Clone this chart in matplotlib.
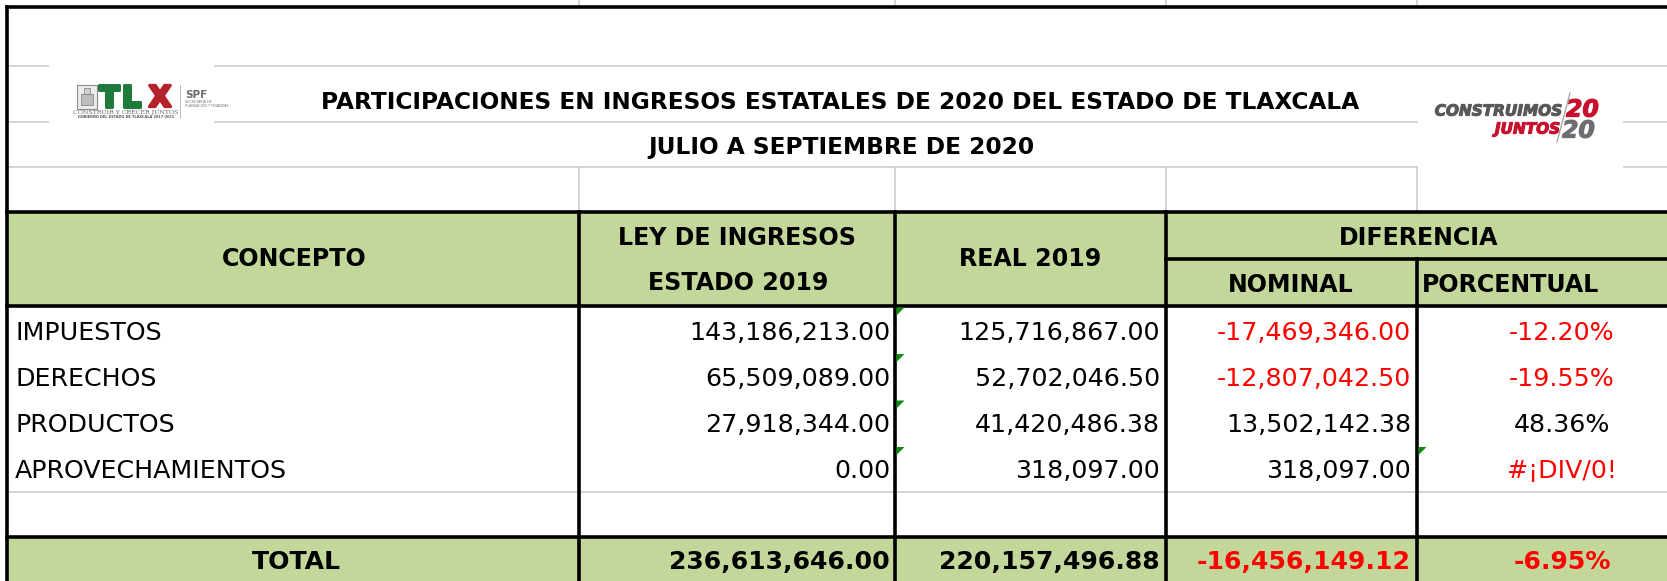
import matplotlib
matplotlib.use('Agg')
import matplotlib.pyplot as plt
import matplotlib.patheffects as pe
from matplotlib.patches import Rectangle, Polygon

# ── Data ──────────────────────────────────────────────────────────────────────
TITLE    = 'PARTICIPACIONES EN INGRESOS ESTATALES DE 2020 DEL ESTADO DE TLAXCALA'
SUBTITLE = 'JULIO A SEPTIEMBRE DE 2020'

conceptos    = ['IMPUESTOS', 'DERECHOS', 'PRODUCTOS', 'APROVECHAMIENTOS']
ley_ingresos = [143186213.00, 65509089.00, 27918344.00, 0.00]
real_2019    = [125716867.00, 52702046.50, 41420486.38, 318097.00]
nominal      = [-17469346.00, -12807042.50, 13502142.38, 318097.00]
porcentual   = [-12.20, -19.55, 48.36, None]      # None -> #¡DIV/0!

total_ley     = 236613646.00
total_real    = 220157496.88
total_nominal = -16456149.12
total_pct     = -6.95

# ── Config ────────────────────────────────────────────────────────────────────
W, H     = 1667, 581
DPI      = 100
GREEN    = '#C4D79B'
RED      = '#FF0000'
GRID     = '#D3D3D3'
BLACK    = '#000000'
THICK    = 2.6      # pt
THIN     = 1.4      # pt

X0       = 7                              # left border
COLS     = [579, 895, 1166, 1417]         # column dividers
HEAD_TOP, HEAD_MID, HEAD_BOT = 212, 259, 306
ROW_H    = 46.5
ROW_CY   = [331, 377, 423, 469]
EMPTY_TOP, TOTAL_TOP = 492, 537
TOTAL_CY = 560

fig = plt.figure(figsize=(W / DPI, H / DPI), dpi=DPI)
ax = fig.add_axes([0, 0, 1, 1])
ax.set_xlim(0, W)
ax.set_ylim(H, 0)
ax.axis('off')
renderer = fig.canvas.get_renderer()

FONT = 'DejaVu Sans'


def fit(txt, width, **kw):
    t = ax.text(0, 0, txt, fontsize=10, family=FONT, **kw)
    w = t.get_window_extent(renderer).width
    t.remove()
    return 10 * width / w


def put(x, cy, s, fs, ha='center', color=BLACK, **kw):
    cap = 0.729 * fs * DPI / 72
    return ax.text(x, cy + cap / 2, s, fontsize=fs, ha=ha, va='baseline',
                   color=color, family=kw.pop('family', FONT), zorder=4, **kw)


def hline(y, x1, x2, color=BLACK, lw=THICK):
    ax.plot([x1, x2], [y, y], color=color, lw=lw, solid_capstyle='projecting', zorder=3)


def vline(x, y1, y2, color=BLACK, lw=THICK):
    ax.plot([x, x], [y1, y2], color=color, lw=lw, solid_capstyle='projecting', zorder=3)


FS_TITLE = fit(TITLE, 1042, weight='bold')
FS_HEAD  = fit('CONCEPTO', 146, weight='bold')
FS_DATA  = fit('143,186,213.00', 200)
FS_TOTAL = fit('236,613,646.00', 221, weight='bold')

# ── Fills ─────────────────────────────────────────────────────────────────────
ax.add_patch(Rectangle((X0, HEAD_TOP), W - X0, HEAD_BOT - HEAD_TOP, fc=GREEN, ec='none', zorder=1))
ax.add_patch(Rectangle((X0, TOTAL_TOP), W - X0, H - TOTAL_TOP + 5, fc=GREEN, ec='none', zorder=1))

# ── Grid (gray, top area) ─────────────────────────────────────────────────────
hline(66, X0, 48, GRID, THIN)
hline(66, 215, W, GRID, THIN)
hline(122, X0, 48, GRID, THIN)
hline(122, 215, 1417, GRID, THIN)
hline(122, 1624, W, GRID, THIN)
hline(167, X0, 1417, GRID, THIN)
hline(167, 1624, W, GRID, THIN)
for cx in COLS:
    vline(cx, 167, HEAD_TOP, GRID, THIN)
    vline(cx, 0, 5, GRID, THIN)
hline(EMPTY_TOP, X0, W, GRID, THIN)

# ── Borders (black) ───────────────────────────────────────────────────────────
hline(7, X0, W)
vline(X0, 7, H)
hline(HEAD_TOP, X0, W)
hline(HEAD_MID, COLS[2], W)
hline(HEAD_BOT, X0, W)
hline(TOTAL_TOP, X0, W)
for cx in COLS[:3]:
    vline(cx, HEAD_TOP, H)
vline(COLS[3], HEAD_MID, H)

# ── Title ─────────────────────────────────────────────────────────────────────
put(840, 101, TITLE, FS_TITLE, weight='bold')
put(841, 146, SUBTITLE, FS_TITLE, weight='bold')

# ── Header ────────────────────────────────────────────────────────────────────
put(294, 257, 'CONCEPTO', FS_HEAD, weight='bold')
put(737, 236, 'LEY DE INGRESOS', FS_HEAD, weight='bold')
put(738, 281, 'ESTADO 2019', FS_HEAD, weight='bold')
put(1030, 257, 'REAL 2019', FS_HEAD, weight='bold')
put(1419, 236, 'DIFERENCIA', FS_HEAD, weight='bold')
put(1291, 283, 'NOMINAL', FS_HEAD, weight='bold')
put(1422, 283, 'PORCENTUAL', FS_HEAD, ha='left', weight='bold')

# ── Rows ──────────────────────────────────────────────────────────────────────
PCT_X = 1562
for i, name in enumerate(conceptos):
    cy = ROW_CY[i]
    put(15, cy, name, FS_DATA, ha='left')
    put(COLS[1] - 5, cy, f'{ley_ingresos[i]:,.2f}', FS_DATA, ha='right')
    put(COLS[2] - 6, cy, f'{real_2019[i]:,.2f}', FS_DATA, ha='right')
    put(COLS[3] - 6, cy, f'{nominal[i]:,.2f}', FS_DATA, ha='right',
        color=RED if nominal[i] < 0 else BLACK)
    p = porcentual[i]
    if p is None:
        put(PCT_X, cy, '#¡DIV/0!', FS_DATA, color=RED)
    else:
        put(PCT_X, cy, f'{p:.2f}%', FS_DATA, color=RED if p < 0 else BLACK)

    # excel error indicators
    top = HEAD_BOT + i * ROW_H + 1.5
    x = COLS[1] + 1.5
    ax.add_patch(Polygon([(x, top), (x + 8, top), (x, top + 8)], closed=True,
                         fc='#108a10', ec='none', zorder=5))
    if p is None:
        x = COLS[3] + 1.5
        ax.add_patch(Polygon([(x, top), (x + 8, top), (x, top + 8)], closed=True,
                             fc='#108a10', ec='none', zorder=5))

# ── Total ─────────────────────────────────────────────────────────────────────
put(296, TOTAL_CY, 'TOTAL', FS_TOTAL, weight='bold')
put(COLS[1] - 5, TOTAL_CY, f'{total_ley:,.2f}', FS_TOTAL, ha='right', weight='bold')
put(COLS[2] - 6, TOTAL_CY, f'{total_real:,.2f}', FS_TOTAL, ha='right', weight='bold')
put(COLS[3] - 6, TOTAL_CY, f'{total_nominal:,.2f}', FS_TOTAL, ha='right', weight='bold', color=RED)
put(PCT_X, TOTAL_CY, f'{total_pct:.2f}%', FS_TOTAL, weight='bold', color=RED)

# ── Left logo (TLX | SPF) ─────────────────────────────────────────────────────
ax.add_patch(Rectangle((77, 85), 20, 24, fc='#ececec', ec='#8c8c8c', lw=0.8, zorder=4))
ax.add_patch(Rectangle((81, 94), 12, 11, fc='#bdbdbd', ec='#7a7a7a', lw=0.5, zorder=5))
ax.add_patch(Rectangle((84, 88), 6, 6, fc='#cfcfcf', ec='#7a7a7a', lw=0.5, zorder=5))
for letter, lx, col in [('T', 109, '#1f7a3c'), ('L', 131, '#1f7a3c'), ('X', 160, '#b5222b')]:
    t = put(lx, 96, letter, 21, weight='bold', color=col)
    t.set_path_effects([pe.withStroke(linewidth=2.2, foreground=col)])
vline(180, 85, 118, '#b0b0b0', 0.6)
put(185, 94, 'SPF', 7.5, ha='left', weight='bold', color='#6b6b6b')
put(185, 102, 'SECRETARÍA DE', 2.4, ha='left', color='#777777')
put(185, 106, 'PLANEACIÓN Y FINANZAS', 2.4, ha='left', color='#777777')
put(126, 112, 'CONSTRUIR Y CRECER JUNTOS', 4.5, color='#666666', family='DejaVu Serif')
put(126, 117, 'GOBIERNO DEL ESTADO DE TLAXCALA 2017-2021', 2.5, color='#555555', weight='bold')

# ── Right logo (CONSTRUIMOS JUNTOS 20/20) ─────────────────────────────────────
ax.plot([1570, 1557], [93, 142], color='#a0a0a0', lw=0.9, zorder=4)
t = put(1562, 110, 'CONSTRUIMOS', 11, ha='right', weight='bold', style='italic', color='#58595b')
t.set_path_effects([pe.withStroke(linewidth=0.8, foreground='#58595b')])
t = put(1566, 108, '20', 17, ha='left', weight='bold', style='italic', color='#c8102e')
t.set_path_effects([pe.withStroke(linewidth=0.8, foreground='#c8102e')])
t = put(1560, 128, 'JUNTOS', 11, ha='right', weight='bold', style='italic', color='#c8102e')
t.set_path_effects([pe.withStroke(linewidth=0.8, foreground='#c8102e')])
t = put(1562, 129, '20', 17, ha='left', weight='bold', style='italic', color='#6d6e71')
t.set_path_effects([pe.withStroke(linewidth=0.8, foreground='#6d6e71')])

fig.savefig('out.png', dpi=DPI)
plt.close(fig)
